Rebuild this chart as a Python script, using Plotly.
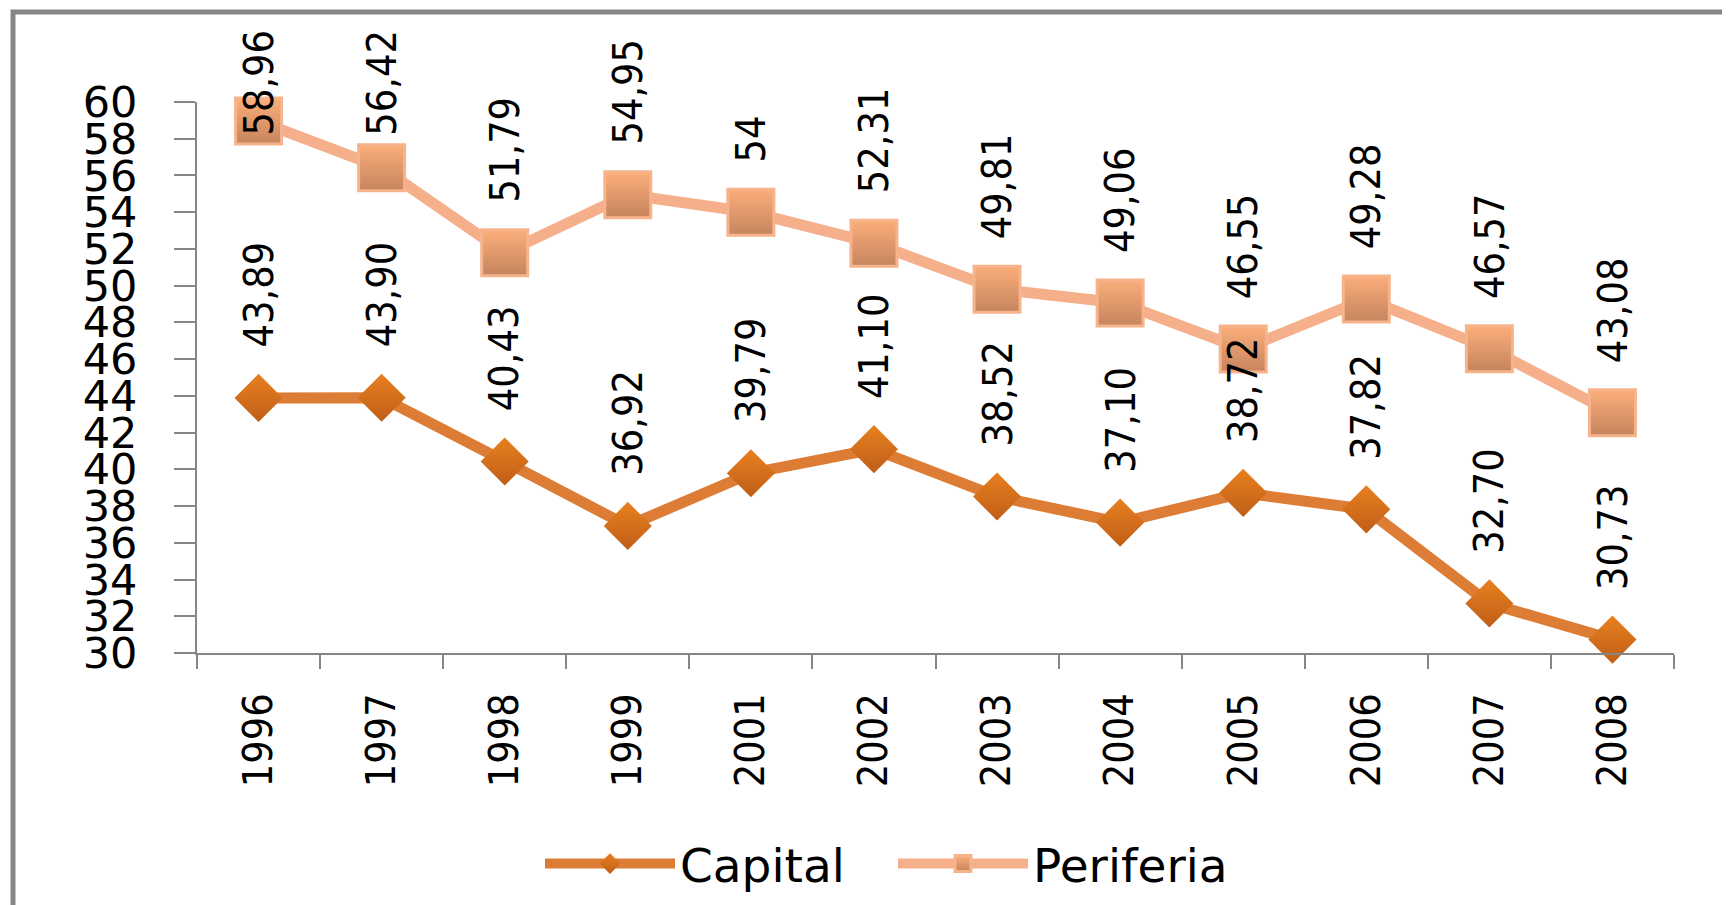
import plotly.graph_objects as go

years = ["1996", "1997", "1998", "1999", "2001", "2002", "2003", "2004", "2005", "2006", "2007", "2008"]
capital = [43.89, 43.90, 40.43, 36.92, 39.79, 41.10, 38.52, 37.10, 38.72, 37.82, 32.70, 30.73]
periferia = [58.96, 56.42, 51.79, 54.95, 54.00, 52.31, 49.81, 49.06, 46.55, 49.28, 46.57, 43.08]
capital_labels = ["43,89", "43,90", "40,43", "36,92", "39,79", "41,10", "38,52", "37,10", "38,72", "37,82", "32,70", "30,73"]
periferia_labels = ["58,96", "56,42", "51,79", "54,95", "54", "52,31", "49,81", "49,06", "46,55", "49,28", "46,57", "43,08"]
y_ticks = list(range(30, 61, 2))

# page body has an 8px margin: figure coords = reference coords - 8
W, H = 1730, 905
L, R, T, B = 189, 64, 94, 260
plot_h = H - T - B
plot_w = W - L - R
y_min, y_max = 30, 60
px_per_unit = plot_h / (y_max - y_min)

LABEL_FONT = "DejaVu Sans Condensed, DejaVu Sans, sans-serif"
WIDE = "DejaVu Sans, Verdana, sans-serif"

fig = go.Figure()
fig.add_trace(go.Scatter(
    x=years, y=capital, name="Capital", mode="lines+markers",
    line=dict(color="#DD7C34", width=11),
    marker=dict(symbol="diamond", size=37, color="#E8801F",
                gradient=dict(type="vertical", color="#BF5E18"),
                line=dict(width=0)),
    cliponaxis=False,
))
fig.add_trace(go.Scatter(
    x=years, y=periferia, name="Periferia", mode="lines+markers",
    line=dict(color="#F5B08B", width=11),
    marker=dict(symbol="square", size=46, color="#FBAE7A",
                gradient=dict(type="vertical", color="#C6845E"),
                line=dict(width=3, color="#F7B38C")),
    cliponaxis=False,
))

label_gap = 48
label_len = 107
top_limit = 20
label_size = 41
annotations = []
for series, labels in ((capital, capital_labels), (periferia, periferia_labels)):
    for i, (v, txt) in enumerate(zip(series, labels)):
        pt_px = T + (y_max - v) * px_per_unit
        font = dict(family=LABEL_FONT, size=label_size, color="black")
        if pt_px - label_gap - label_len < top_limit:
            annotations.append(dict(
                x=i, xref="x", y=(H - B - top_limit) / plot_h, yref="paper",
                yanchor="top", xanchor="center", text=txt, showarrow=False,
                textangle=-90, font=font))
        else:
            annotations.append(dict(
                x=i, xref="x", y=v, yref="y", yanchor="bottom", xanchor="center",
                yshift=label_gap, text=txt, showarrow=False, textangle=-90,
                font=font))

fig.update_layout(
    width=W, height=H,
    margin=dict(l=L, r=R, t=T, b=B, autoexpand=False),
    paper_bgcolor="white", plot_bgcolor="white",
    showlegend=True,
    legend=dict(orientation="h", x=(532 - L) / plot_w, xanchor="left",
                y=(H - B - 856) / plot_h, yanchor="middle",
                font=dict(family=WIDE, size=47, color="black"),
                itemwidth=130, entrywidth=208, bgcolor="rgba(0,0,0,0)"),
    annotations=annotations,
    xaxis=dict(
        type="category", range=[-0.5, len(years) - 0.5],
        showline=True, linecolor="#868686", linewidth=2,
        ticks="outside", tickson="boundaries", ticklen=14, tickwidth=2, tickcolor="#868686",
        tickangle=-90, tickfont=dict(family=LABEL_FONT, size=label_size, color="black"),
        ticklabelstandoff=22, showgrid=False, zeroline=False,
    ),
    yaxis=dict(
        range=[y_min, y_max], tickvals=y_ticks, ticktext=[str(t) for t in y_ticks],
        showline=True, linecolor="#868686", linewidth=2,
        ticks="outside", ticklen=21, tickwidth=2, tickcolor="#868686",
        tickfont=dict(family=WIDE, size=43, color="black"),
        ticklabelstandoff=28, showgrid=False, zeroline=False,
    ),
    shapes=[dict(type="rect", xref="paper", yref="paper",
                 x0=(5 - L) / plot_w, x1=(W + 40 - L) / plot_w,
                 y0=(H - B - (H + 40)) / plot_h, y1=(H - B - 4) / plot_h,
                 line=dict(color="#868686", width=5), fillcolor="rgba(0,0,0,0)",
                 layer="below")],
)

fig.write_html("out.html")
